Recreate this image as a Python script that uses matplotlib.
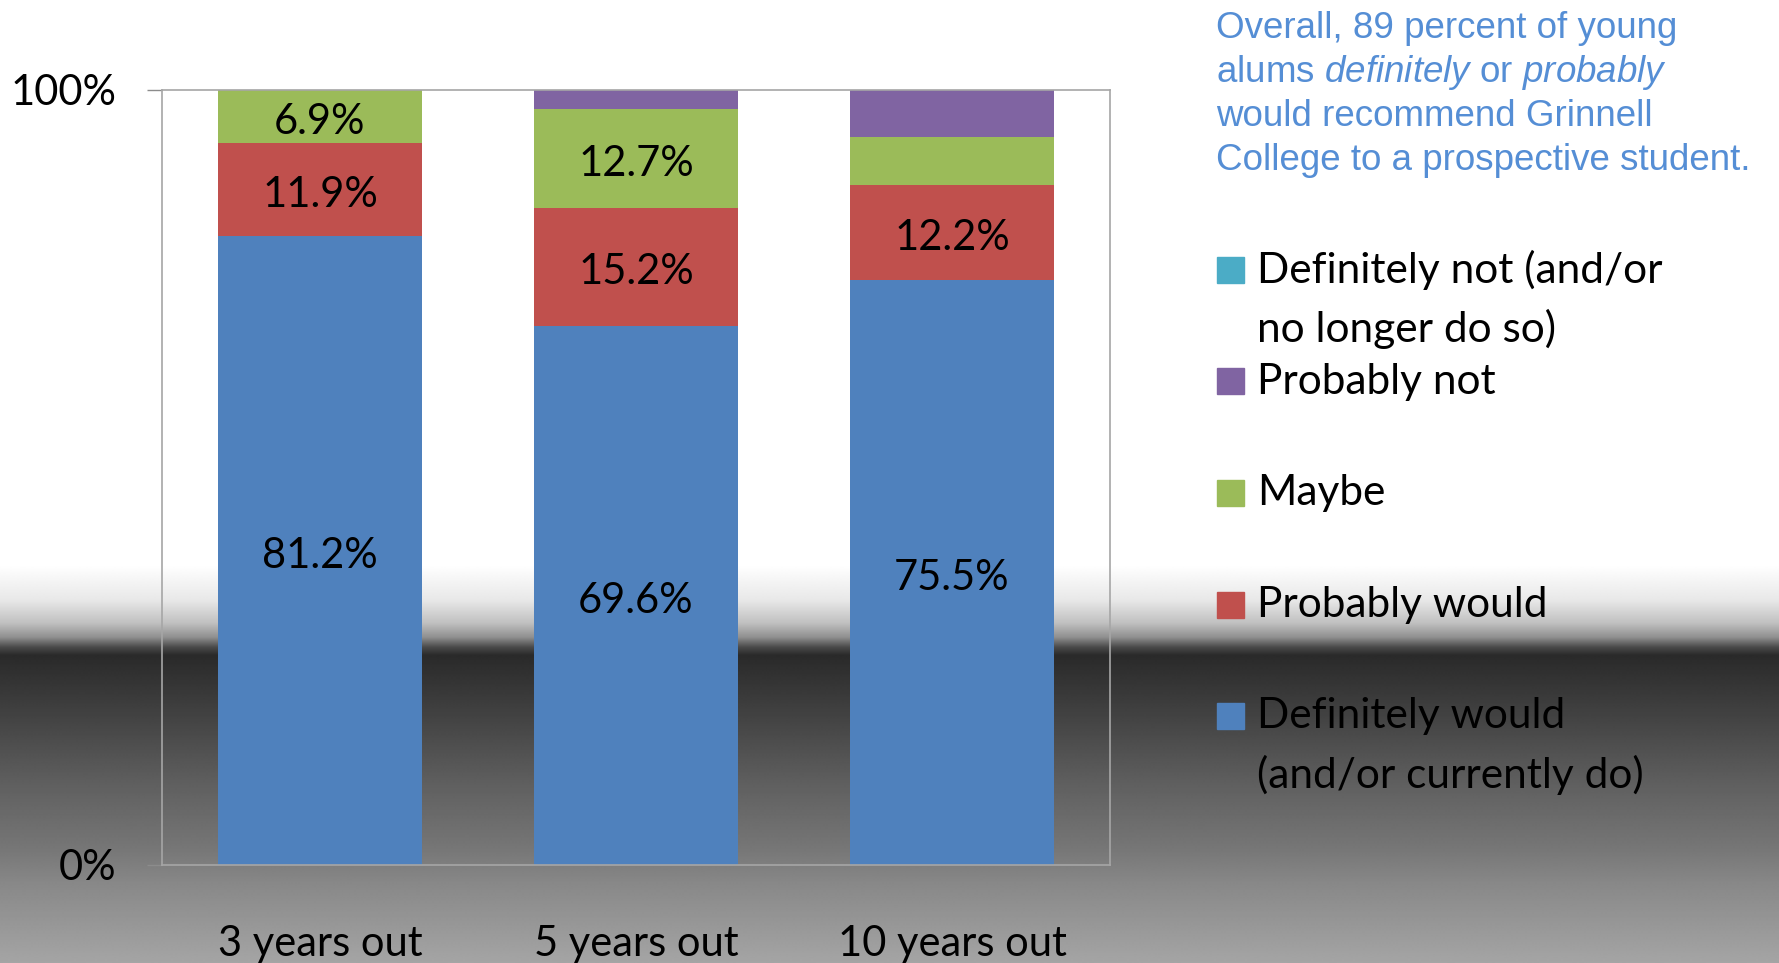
import numpy as np
import matplotlib
matplotlib.use("Agg")
from matplotlib import pyplot as plt
from matplotlib.patches import Rectangle

# data
groups = ["3 years out", "5 years out", "10 years out"]
definitely_would = [81.2, 69.6, 75.5]
probably_would = [11.9, 15.2, 12.2]
maybe = [6.9, 12.7, 6.2]
probably_not = [0.0, 2.5, 6.1]
definitely_not = [0.0, 0.0, 0.0]

series = [definitely_would, probably_would, maybe, probably_not, definitely_not]
series_names = ["Definitely would\n(and/or currently do)", "Probably would", "Maybe",
                "Probably not", "Definitely not (and/or\nno longer do so)"]
colors = ["#4f81bd", "#c0504d", "#9bbb59", "#8064a2", "#4bacc6"]

note_lines = ["Overall, 89 percent of young",
              r"alums $\mathit{definitely}$ or $\mathit{probably}$",
              "would recommend Grinnell",
              "College to a prospective student."]

plt.rcParams["font.family"] = ["Lato", "DejaVu Sans"]
plt.rcParams["mathtext.fontset"] = "custom"
plt.rcParams["mathtext.rm"] = "Liberation Sans"
plt.rcParams["mathtext.it"] = "Liberation Sans:italic"

W, H = 1779, 963
fig = plt.figure(figsize=(W / 100, H / 100), dpi=100)

# slide background: white top, dark band, grey ramp
bg = fig.add_axes([0, 0, 1, 1], zorder=0)
stops_y = [0, 565, 600, 623, 637, 647, 655, 717, 783, 850, 883, 963]
stops_g = [255, 255, 232, 192, 144, 74, 42, 67, 95, 119, 136, 165]
col = np.interp(np.arange(H), stops_y, stops_g) / 255.0
bg.imshow(np.repeat(col[:, None], 4, axis=1), cmap="gray", vmin=0, vmax=1,
          aspect="auto", extent=[0, 1, 0, 1], interpolation="bilinear")
bg.axis("off")

ax = fig.add_axes([162 / W, 1 - 865 / H, 948 / W, 775 / H], zorder=1)
ax.set_facecolor("none")

x = np.arange(len(groups))
bottom = np.zeros(len(groups))
for vals, c in zip(series, colors):
    vals = np.array(vals)
    ax.bar(x, vals, 0.645, bottom=bottom, color=c, edgecolor="none", zorder=2)
    for xi, b, v in zip(x, bottom, vals):
        if v >= 6.5:
            ax.annotate(f"{v:.1f}%", (xi, b + v / 2), xytext=(0, -4),
                        textcoords="offset points", ha="center", va="center",
                        fontsize=30, color="black", zorder=3)
    bottom += vals

ax.set_xlim(-0.5, 2.5)
ax.set_ylim(0, 100)
ax.set_yticks([0, 100])
ax.set_yticklabels(["0%", "100%"])
ax.set_xticks(x)
ax.set_xticklabels(groups)
ax.tick_params(axis="y", length=11, width=1, color="#8c8c8c", pad=22, labelsize=30)
ax.tick_params(axis="x", length=0, pad=43, labelsize=30)
for s in ax.spines.values():
    s.set_color("#a6a6a6")
    s.set_linewidth(1.2)

# legend drawn by hand, one slot per category
legend_order = list(zip(series_names, colors))[::-1]
y0 = 270
for i, (name, c) in enumerate(legend_order):
    yc = y0 + i * 111.5
    fig.patches.append(Rectangle((1217 / W, 1 - (yc + 13) / H), 27 / W, 26 / H,
                                 transform=fig.transFigure, color=c, zorder=5))
    for j, line in enumerate(name.split("\n")):
        fig.text(1257 / W, 1 - (yc + j * 59) / H, line, fontsize=30.5,
                 ha="left", va="center", color="black", zorder=5)

for k, line in enumerate(note_lines):
    fig.text(1216 / W, 1 - (38 + k * 44) / H, line, fontsize=26.5,
             family="Liberation Sans", color="#558ed5", ha="left", va="baseline", zorder=5)

fig.savefig("out.png", dpi=100)
